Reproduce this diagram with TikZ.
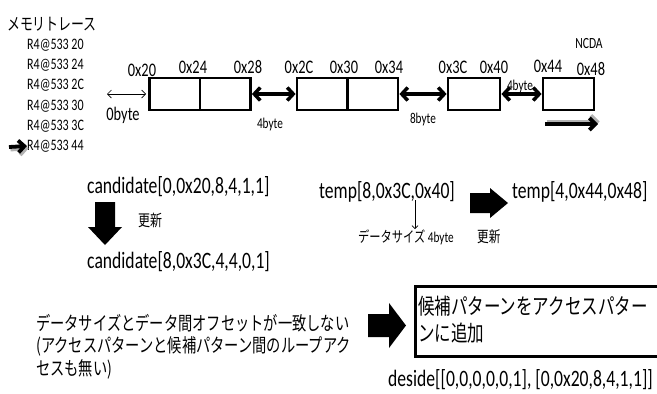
\documentclass[tikz,border=0pt]{standalone}
\usepackage{fontspec}
\setmainfont[FakeStretch=0.75]{Carlito}
\newfontfamily\jpf[FakeStretch=0.75]{Noto Sans CJK JP}
\usetikzlibrary{arrows.meta}
\newcommand\fsz[1]{\fontsize{#1}{#1}\selectfont}
\begin{document}
\begin{tikzpicture}[x=1pt,y=-1pt,
  txt/.style={inner sep=0pt, font=\fsz{#1}},
  cell/.style={draw, line width=2.8pt, minimum height=32pt, inner sep=0pt},
  dblarr/.style={{Straight Barb[length=6pt,width=13pt]}-{Straight Barb[length=6pt,width=13pt]}, line width=3.5pt},
  thinarr/.style={{Straight Barb[length=4pt,width=8pt]}-{Straight Barb[length=4pt,width=8pt]}, line width=0.7pt},
  fatarr/.style={-{Straight Barb[length=6pt,width=12pt]}, line width=3.8pt},
  shadarr/.style={-{Straight Barb[length=6pt,width=12pt]}, line width=3.8pt, draw=black!30},
  blockarr/.style={fill=black}
]
\useasboundingbox (0,0) rectangle (657,394);

% memory trace
\node[txt=17.2, anchor=west] (title) at (7,24) {\jpf メモリトレース};
\node[txt=16, anchor=west] (r1) at (27,45) {R4@533 20};
\node[txt=16, anchor=west] (r2) at (27,65) {R4@533 24};
\node[txt=16, anchor=west] (r3) at (27,85) {R4@533 2C};
\node[txt=16, anchor=west] (r4) at (27,106) {R4@533 30};
\node[txt=16, anchor=west] (r5) at (27,126) {R4@533 3C};
\node[txt=16, anchor=west] (r6) at (27,146) {R4@533 44};
\coordinate (pa) at (9,147);
\draw[shadarr] (10.5,149.5) -- ([xshift=1.5pt,yshift=-2.5pt]r6.west);
\draw[fatarr] (pa) -- (r6.west);

% memory cells
\node[cell, minimum width=50.5pt] (b1a) at (174.75,94) {};
\node[cell, minimum width=50.5pt] (b1b) at (225.25,94) {};
\node[cell, minimum width=50.5pt] (b2a) at (322.25,94) {};
\node[cell, minimum width=50.5pt] (b2b) at (372.75,94) {};
\node[cell, minimum width=52pt] (b3) at (474,94) {};
\node[cell, minimum width=51pt] (b4) at (568.5,94) {};

\node[txt=19.2] (l20) at (142,70) {0x20};
\node[txt=19.2] (l24) at (193,67) {0x24};
\node[txt=19.2] (l28) at (248,67) {0x28};
\node[txt=19.2] (l2C) at (299,67) {0x2C};
\node[txt=19.2] (l30) at (344,67) {0x30};
\node[txt=19.2] (l34) at (389,67) {0x34};
\node[txt=19.2] (l3C) at (453,67) {0x3C};
\node[txt=19.2] (l40) at (494,67) {0x40};
\node[txt=19.2] (l44) at (548,66) {0x44};
\node[txt=19.2] (l48) at (591,69) {0x48};
\node[txt=15.5] (ncda) at (589,44) {NCDA};

\coordinate (z0a) at (107,94);
\draw[thinarr] (z0a) -- ([xshift=-2pt]b1a.west);
\node[txt=19.2] (zb) at (123,115) {0byte};

\draw[dblarr] (b1b.east) -- (b2a.west);
\node[txt=15] (g1) at (270,124) {4byte};
\draw[dblarr] (b2b.east) -- (b3.west);
\node[txt=15] (g2) at (423,119) {8byte};
\draw[dblarr] (b3.east) -- (b4.west);
\node[txt=15] (g3) at (520,86) {4byte};

\coordinate (na) at (545,124);
\coordinate (nb) at (598,124);
\draw[shadarr] ([xshift=1.5pt,yshift=2.5pt]na) -- ([xshift=1.5pt,yshift=2.5pt]nb);
\draw[fatarr] (na) -- (nb);

% candidate
\node[txt=23.5, anchor=west] (c1) at (87,187) {candidate[0,0x20,8,4,1,1]};
\fill[blockarr] (95,202) -- (115,202) -- (115,227) -- (122,227) -- (105,245) -- (88,227) -- (95,227) -- cycle;
\node[txt=16, anchor=west] (u1) at (138,220) {\jpf 更新};
\node[txt=23.5, anchor=west] (c2) at (87,262) {candidate[8,0x3C,4,4,0,1]};

% temp
\node[txt=23.5, anchor=west] (t1) at (319,192) {temp[8,0x3C,0x40]};
\fill[blockarr] (470,193) -- (490,193) -- (490,188) -- (508,203) -- (490,218) -- (490,213) -- (470,213) -- cycle;
\node[txt=23.5, anchor=west] (t2) at (512,192) {temp[4,0x44,0x48]};
\node[txt=15, anchor=west] (ds) at (358,237) {\jpf データサイズ {\rmfamily 4byte}};
\coordinate (dsa) at (415,200);
\draw[-{Straight Barb[length=3pt,width=6pt]}, line width=0.8pt] (dsa) -- (dsa |- ds.north);
\node[txt=15.5, anchor=west] (u2) at (477,237) {\jpf 更新};

% bottom
\node[txt=19, anchor=west] (lt1) at (36,323) {\jpf データサイズとデータ間オフセットが一致しない};
\node[txt=19, anchor=west] (lt2) at (36,346) {\jpf (アクセスパターンと候補パターン間のループアク};
\node[txt=19, anchor=west] (lt3) at (36,369) {\jpf セスも無い)};
\fill[blockarr] (368,314) -- (389,314) -- (389,303) -- (406,325.5) -- (389,348) -- (389,337) -- (368,337) -- cycle;
\node[draw, line width=2.8pt, minimum width=260pt, minimum height=70pt, anchor=north west, inner sep=0pt] (bx) at (414,285) {};
\node[txt=22, anchor=west] (bt1) at (418,306) {\jpf 候補パターンをアクセスパター};
\node[txt=22, anchor=west] (bt2) at (418,333) {\jpf ンに追加};
\node[txt=23.5, anchor=west] (d1) at (388,380) {deside[[0,0,0,0,0,1], [0,0x20,8,4,1,1]]};
\end{tikzpicture}
\end{document}
